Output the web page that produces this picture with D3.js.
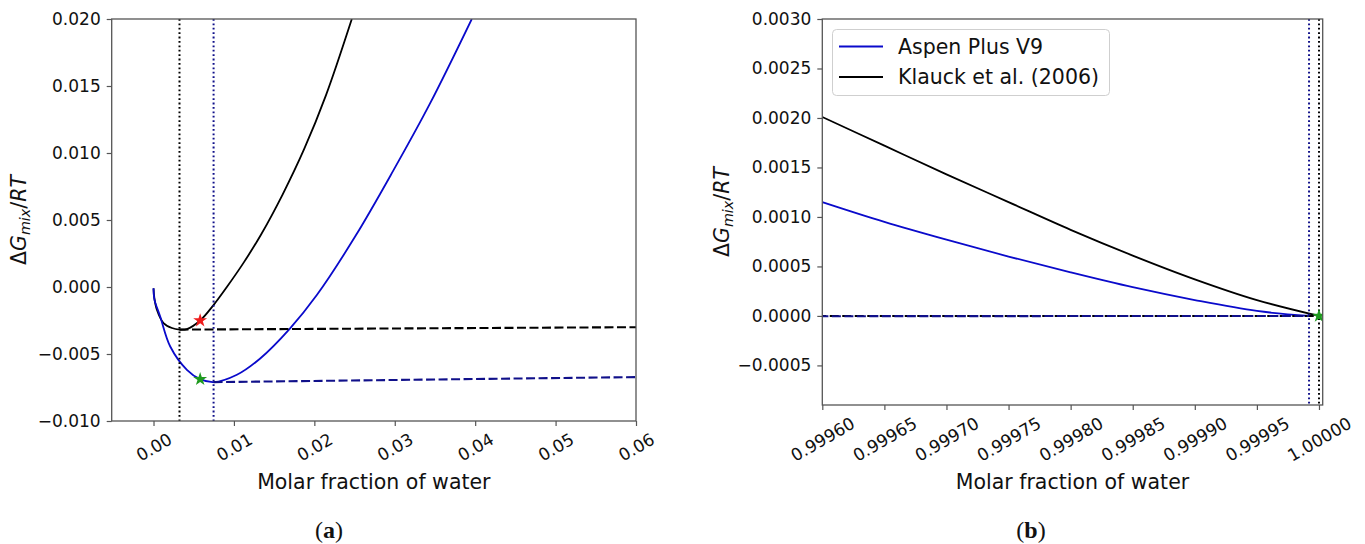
<!DOCTYPE html>
<html><head><meta charset="utf-8">
<script src="https://cdn.jsdelivr.net/npm/d3@7"></script>
<style>body{margin:0;background:#fff} svg{display:block}</style>
</head><body>
<svg id="c" width="1365" height="544"></svg>
<script>
// ---------- data ----------
// Aspen Plus V9 curve, low water fraction region
const aspenLowX = [0, 0.0001, 0.00083, 0.00208, 0.00415, 0.0058, 0.00747, 0.01037, 0.01323, 0.01696, 0.02031, 0.02511, 0.02983, 0.03439, 0.03958];
const aspenLowY = [-0.0001, -0.0009, -0.0022, -0.00444, -0.00618, -0.00688, -0.0071, -0.00655, -0.00535, -0.0031, -0.0006, 0.0038, 0.0087, 0.0137, 0.0200];
// Klauck et al. (2006) curve, low water fraction region
const klauckLowX = [0, 0.0001, 0.00042, 0.00124, 0.00229, 0.00323, 0.00415, 0.0058, 0.00746, 0.00912, 0.01119, 0.01336, 0.01605, 0.01874, 0.02144, 0.02466];
const klauckLowY = [-0.0001, -0.0008, -0.0017, -0.00269, -0.00306, -0.00318, -0.00314, -0.0025, -0.00135, 0.0000, 0.0018, 0.0039, 0.0069, 0.0103, 0.0143, 0.0200];
// high water fraction region
const aspenHighX = [0.9996, 0.99965, 0.9997, 0.99975, 0.9998, 0.99985, 0.9999, 0.99995, 0.999992];
const aspenHighY = [0.00115, 0.00095, 0.00077, 0.0006, 0.00044, 0.00029, 0.00016, 0.00005, 0.0];
const klauckHighX = [0.9996, 0.99965, 0.9997, 0.99975, 0.9998, 0.99985, 0.9999, 0.99995, 1.0];
const klauckHighY = [0.00201, 0.00172, 0.00143, 0.00115, 0.00087, 0.00061, 0.00037, 0.00016, 0.0];
// common tangent points [x, y]
const aspenTangent = [[0.00747, -0.0071], [0.999992, 0.0]];
const klauckTangent = [[0.00323, -0.00318], [1.0, 0.0]];
// star markers
const redStars = [[0.0058, -0.0025]];
const greenStars = [[0.0058, -0.00688], [1.0, 0.0]];
// ticks
const leftXTicks = [0, 0.01, 0.02, 0.03, 0.04, 0.05, 0.06];
const leftYTicks = [-0.010, -0.005, 0.0, 0.005, 0.010, 0.015, 0.020];
const rightXTicks = [0.9996, 0.99965, 0.9997, 0.99975, 0.9998, 0.99985, 0.9999, 0.99995, 1.0];
const rightYTicks = [-0.0005, 0.0, 0.0005, 0.0010, 0.0015, 0.0020, 0.0025, 0.0030];
const legendLabels = ["Aspen Plus V9", "Klauck et al. (2006)"];
const xLabel = "Molar fraction of water";

// ---------- styles ----------
const BLUE = "#0a0acb", NAVY = "#10108a", BLACK = "#000";
const FONT = "DejaVu Sans", TFS = 17, LFS = 20.5;
const svg = d3.select("#c");

const aspenLow = aspenLowX.map((x, i) => [x, aspenLowY[i]]);
const klauckLow = klauckLowX.map((x, i) => [x, klauckLowY[i]]);
const aspenHigh = aspenHighX.map((x, i) => [x, aspenHighY[i]]);
const klauckHigh = klauckHighX.map((x, i) => [x, klauckHighY[i]]);

function panel(cfg) {
  const x = d3.scaleLinear().domain(cfg.xDomain).range([cfg.left, cfg.right]);
  const y = d3.scaleLinear().domain(cfg.yDomain).range([cfg.bottom, cfg.top]);
  const clipId = "clip" + cfg.id;
  svg.append("clipPath").attr("id", clipId).append("rect")
    .attr("x", cfg.left).attr("y", cfg.top)
    .attr("width", cfg.right - cfg.left).attr("height", cfg.bottom - cfg.top);
  const g = svg.append("g");
  const plot = g.append("g").attr("clip-path", `url(#${clipId})`);
  const line = d3.line().x(d => x(d[0])).y(d => y(d[1])).curve(d3.curveCatmullRom.alpha(0.5));
  const straight = d3.line().x(d => x(d[0])).y(d => y(d[1]));

  // curves
  plot.append("path").attr("d", line(cfg.klauck)).attr("fill", "none").attr("stroke", BLACK).attr("stroke-width", 1.8);
  plot.append("path").attr("d", line(cfg.aspen)).attr("fill", "none").attr("stroke", BLUE).attr("stroke-width", 1.8);
  // tangent dashed lines
  plot.append("path").attr("d", straight(klauckTangent)).attr("fill", "none").attr("stroke", BLACK)
    .attr("stroke-width", 2.1).attr("stroke-dasharray", "9,3.5");
  plot.append("path").attr("d", straight(aspenTangent)).attr("fill", "none").attr("stroke", NAVY)
    .attr("stroke-width", 2.1).attr("stroke-dasharray", "9,3.5");
  // vertical dotted lines at the tangent points
  const vlines = [[klauckTangent[0][0], BLACK], [klauckTangent[1][0], BLACK], [aspenTangent[0][0], NAVY], [aspenTangent[1][0], NAVY]];
  plot.selectAll(null).data(vlines).enter().append("line")
    .attr("x1", d => x(d[0])).attr("x2", d => x(d[0]))
    .attr("y1", cfg.top).attr("y2", cfg.bottom)
    .attr("stroke", d => d[1]).attr("stroke-width", 2).attr("stroke-dasharray", "1.8,2.6");
  // stars
  const star = d3.symbol().type(d3.symbolStar).size(60);
  plot.selectAll(null).data(redStars).enter().append("path").attr("d", star)
    .attr("transform", d => `translate(${x(d[0])},${y(d[1])})`).attr("fill", "#ee1c1c");
  plot.selectAll(null).data(greenStars).enter().append("path").attr("d", star)
    .attr("transform", d => `translate(${x(d[0])},${y(d[1])})`).attr("fill", "#1f9a1f");

  // frame
  g.append("rect").attr("x", cfg.left).attr("y", cfg.top)
    .attr("width", cfg.right - cfg.left).attr("height", cfg.bottom - cfg.top)
    .attr("fill", "none").attr("stroke", "#555").attr("stroke-width", 1.3);

  // y axis
  const ya = g.append("g").attr("transform", `translate(${cfg.left},0)`)
    .call(d3.axisLeft(y).tickValues(cfg.yTicks).tickFormat(d3.format(cfg.yFmt)).tickSize(5).tickPadding(6));
  ya.select(".domain").remove();
  ya.selectAll(".tick line").attr("stroke", "#555").attr("stroke-width", 1.2);
  ya.selectAll(".tick text").attr("font-family", FONT).attr("font-size", TFS).attr("fill", "#111");

  // x axis
  const xa = g.append("g").attr("transform", `translate(0,${cfg.bottom})`)
    .call(d3.axisBottom(x).tickValues(cfg.xTicks).tickFormat(d3.format(cfg.xFmt)).tickSize(5).tickPadding(6));
  xa.select(".domain").remove();
  xa.selectAll(".tick line").attr("stroke", "#555").attr("stroke-width", 1.2);
  xa.selectAll(".tick text").attr("font-family", FONT).attr("font-size", TFS).attr("fill", "#111")
    .attr("text-anchor", "middle").attr("dy", null).attr("y", 0).attr("x", 0)
    .attr("dominant-baseline", "central")
    .each(function () {
      const w = this.getComputedTextLength();
      const h = TFS * 1.05;
      const bh = w * 0.5 + h * 0.866;
      d3.select(this).attr("transform", `translate(0,${9 + bh / 2}) rotate(-30)`);
    });

  // axis labels
  g.append("text").attr("x", (cfg.left + cfg.right) / 2).attr("y", 489)
    .attr("text-anchor", "middle").attr("font-family", FONT).attr("font-size", LFS).attr("fill", "#111")
    .text(xLabel);
  const yl = g.append("text").attr("transform", `translate(${cfg.ylabelX},${(cfg.top + cfg.bottom) / 2}) rotate(-90)`)
    .attr("text-anchor", "middle").attr("font-family", FONT).attr("font-size", LFS).attr("fill", "#111");
  yl.append("tspan").text("Δ");
  yl.append("tspan").attr("font-style", "italic").text("G");
  yl.append("tspan").attr("font-style", "italic").attr("font-size", LFS * 0.7).attr("dy", 4).text("mix");
  yl.append("tspan").attr("dy", -4).text("/");
  yl.append("tspan").attr("font-style", "italic").text("RT");

  // caption
  const cap = g.append("text").attr("x", cfg.capX).attr("y", 538).attr("text-anchor", "middle")
    .attr("font-family", "Liberation Serif").attr("font-size", 24).attr("fill", "#111");
  cap.append("tspan").text("(");
  cap.append("tspan").attr("font-weight", "bold").text(cfg.cap);
  cap.append("tspan").text(")");
  return { x, y, g };
}

// left panel
panel({
  id: "a", left: 111.7, right: 636, top: 19, bottom: 421,
  xDomain: [-0.0052, 0.06], yDomain: [-0.010, 0.020],
  xTicks: leftXTicks, yTicks: leftYTicks, xFmt: ".2f", yFmt: ".3f",
  aspen: aspenLow, klauck: klauckLow, ylabelX: 26, capX: 329, cap: "a"
});

// right panel
panel({
  id: "b", left: 822.3, right: 1322.7, top: 19, bottom: 405,
  xDomain: [0.9996, 1.000003], yDomain: [-0.0009, 0.0030],
  xTicks: rightXTicks, yTicks: rightYTicks, xFmt: ".5f", yFmt: ".4f",
  aspen: aspenHigh, klauck: klauckHigh, ylabelX: 729, capX: 1031, cap: "b"
});

// legend
const lg = svg.append("g");
lg.append("rect").attr("x", 832.5).attr("y", 29.5).attr("width", 277).attr("height", 66).attr("rx", 4)
  .attr("fill", "#fff").attr("fill-opacity", 0.85).attr("stroke", "#cfcfcf").attr("stroke-width", 1);
const legendColors = [BLUE, BLACK];
legendLabels.forEach((t, i) => {
  const yy = 46.5 + i * 30.5;
  lg.append("line").attr("x1", 839).attr("x2", 883).attr("y1", yy).attr("y2", yy)
    .attr("stroke", legendColors[i]).attr("stroke-width", 1.8);
  lg.append("text").attr("x", 898).attr("y", yy).attr("dominant-baseline", "central")
    .attr("font-family", FONT).attr("font-size", LFS).attr("fill", "#111").text(t);
});
</script>
</body></html>
